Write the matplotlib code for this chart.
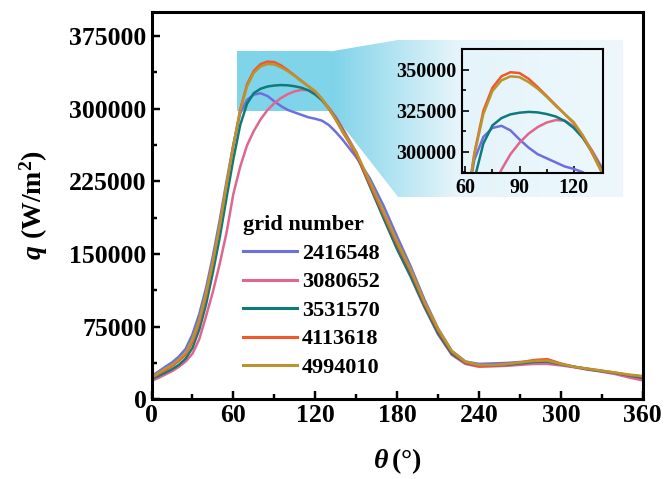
import numpy as np
import matplotlib
matplotlib.use("Agg")
import matplotlib.pyplot as plt
from matplotlib.patches import Polygon, Rectangle
from matplotlib.ticker import MultipleLocator
from matplotlib.colors import LinearSegmentedColormap

# fonts: Liberation Serif stands in for Times New Roman
plt.rcParams['font.family'] = ['Liberation Serif', 'DejaVu Serif']
plt.rcParams['font.weight'] = 'bold'
plt.rcParams['mathtext.fontset'] = 'custom'
plt.rcParams['mathtext.rm'] = 'Liberation Serif'
plt.rcParams['mathtext.it'] = 'Liberation Serif:italic'
plt.rcParams['mathtext.bf'] = 'Liberation Serif:bold'
plt.rcParams['mathtext.bfit'] = 'Liberation Serif:italic:bold'

# ---- data ----
theta = [0, 5, 10, 15, 20, 25, 30, 35, 40, 45, 50, 55, 60, 65, 70, 75, 80, 85, 90,
         95, 100, 105, 110, 115, 120, 125, 130, 135, 140, 150, 160, 170, 180, 190,
         200, 210, 220, 230, 240, 250, 260, 270, 280, 290, 300, 310, 320, 330, 340,
         350, 360]

q_2416548 = [24000, 28500, 33500, 38000, 44000, 52000, 67000, 88000, 115000, 148000,
             185000, 225000, 263000, 295000, 309000, 314500, 315800, 313000, 307500,
             302500, 298500, 296000, 293500, 291000, 289500, 287500, 283000, 276000,
             268000, 250000, 228000, 200000, 168000, 137000, 103000, 73000, 50000,
             39000, 36500, 37000, 37500, 38500, 39000, 38500, 36000, 33500, 31000,
             29000, 27000, 24500, 22000]

q_3080652 = [19000, 22000, 25500, 29000, 33500, 39000, 47000, 62000, 86000, 111000,
             140000, 172000, 212000, 240000, 262000, 277000, 289000, 298500, 305500,
             311000, 315000, 317800, 319300, 319000, 315500, 309500, 301000, 291500,
             280000, 255000, 222000, 188000, 155000, 126000, 95000, 67000, 46000,
             36500, 33500, 34000, 34500, 35500, 36500, 36500, 35000, 33000, 30500,
             28500, 26000, 22500, 19500]

q_3531570 = [21000, 24000, 27500, 31000, 35500, 42000, 53000, 72000, 98000, 131000,
             167000, 208000, 248000, 283000, 305000, 316000, 320500, 322800, 323800,
             324300, 324000, 323000, 321500, 318800, 314500, 308500, 300000, 290000,
             278000, 253000, 220000, 187000, 155000, 127000, 96000, 68000, 47000,
             37500, 34500, 35000, 35500, 37000, 38500, 39000, 36000, 33500, 31000,
             29000, 27000, 24500, 22000]

q_4113618 = [22000, 26000, 30000, 34000, 39500, 46000, 59000, 79000, 107000, 141000,
             179000, 221000, 262000, 299000, 325000, 339000, 346000, 348500, 348000,
             344500, 339500, 334000, 328500, 323000, 317500, 309500, 299500, 288500,
             276000, 253000, 222000, 191000, 160000, 132000, 99000, 71000, 49000,
             38000, 34500, 35000, 36000, 38000, 40500, 41500, 37000, 33500, 31500,
             29500, 27500, 25000, 23500]

q_4994010 = [23000, 27000, 31500, 35500, 41000, 48000, 62000, 82000, 110000, 143000,
             180000, 222000, 262000, 298000, 323000, 337000, 343500, 346000, 345500,
             342500, 338500, 333500, 328000, 323000, 318000, 310000, 300000, 289000,
             277000, 255000, 225000, 194000, 163000, 134000, 101000, 73000, 50000,
             39000, 35500, 35500, 36500, 38000, 39500, 40000, 36500, 33500, 31500,
             29500, 27500, 25500, 24000]

grid_labels = ['2416548', '3080652', '3531570', '4113618', '4994010']
series = [q_2416548, q_3080652, q_3531570, q_4113618, q_4994010]
colors = ['#6b70de', '#e0668f', '#0e7b7b', '#f0582a', '#b89530']


def style_axis(ax, size, spine_w, major_len, minor_len):
    for s in ax.spines.values():
        s.set_linewidth(spine_w)
    ax.tick_params(which='both', direction='in', width=spine_w * 0.8, labelsize=size)
    ax.tick_params(which='major', length=major_len)
    ax.tick_params(which='minor', length=minor_len)
    for lab in ax.get_xticklabels() + ax.get_yticklabels():
        lab.set_fontweight('bold')


fig = plt.figure(figsize=(6.66, 4.79), dpi=100)
ax = fig.add_axes([0.2275, 0.1664, 0.7375, 0.8092])

# zoom highlight: solid rectangle, gradient funnel and pale box behind the inset
rect_x, rect_y = (62.4, 131.3), (298000, 359000)
box_x, box_y = (180.7, 345.6), (208800, 370800)
ax.add_patch(Rectangle((rect_x[0], rect_y[0]), rect_x[1] - rect_x[0], rect_y[1] - rect_y[0],
                       facecolor='#80d4ea', edgecolor='none', zorder=0))
funnel = Polygon([(rect_x[1], rect_y[1]), (box_x[0], box_y[1]), (box_x[1], box_y[1]),
                  (box_x[1], box_y[0]), (box_x[0], box_y[0]), (rect_x[1], rect_y[0])],
                 closed=True, facecolor='none', edgecolor='none')
ax.add_patch(funnel)
cmap = LinearSegmentedColormap.from_list('fade', [(0, '#7fd3e9'), (0.42, '#e4f4fa'), (1, '#eef8fc')])
grad = np.linspace(0, 1, 256).reshape(1, -1)
im = ax.imshow(grad, cmap=cmap, aspect='auto', extent=[rect_x[1], box_x[1], box_y[0], box_y[1]],
               zorder=0, interpolation='bilinear')
im.set_clip_path(funnel)

for q, c, lab in zip(series, colors, grid_labels):
    ax.plot(theta, q, color=c, lw=1.8, label=lab, zorder=2)

ax.set_xlim(0, 360)
ax.set_ylim(0, 400000)
ax.xaxis.set_major_locator(MultipleLocator(60))
ax.xaxis.set_minor_locator(MultipleLocator(30))
ax.yaxis.set_major_locator(MultipleLocator(75000))
ax.yaxis.set_minor_locator(MultipleLocator(37500))
style_axis(ax, 18.5, 2.2, 6, 3.5)
ax.set_xlabel(r'$\mathit{\theta}\,\mathrm{(°)}$', fontsize=20, labelpad=14)
ax.set_ylabel(r'$\mathbfit{q}\ \mathbf{(W/m^2)}$', fontsize=20, labelpad=14)

leg = ax.legend(loc='upper left', bbox_to_anchor=(0.155, 0.515), frameon=False,
                title='grid number', alignment='left',
                prop={'family': 'Liberation Serif', 'weight': 'bold', 'size': 16},
                title_fontproperties={'family': 'Liberation Serif', 'weight': 'bold', 'size': 16},
                handlelength=2.4, handletextpad=0.25, labelspacing=0.36, borderpad=0.2)
for h in leg.get_lines():
    h.set_linewidth(2.2)

# inset zoom
axin = fig.add_axes([0.6932, 0.6388, 0.2117, 0.2583])
axin.set_facecolor('none')
for q, c in zip(series, colors):
    axin.plot(theta, q, color=c, lw=1.8)
axin.set_xlim(58, 136)
axin.set_ylim(287000, 362500)
axin.xaxis.set_major_locator(MultipleLocator(30))
axin.xaxis.set_minor_locator(MultipleLocator(15))
axin.yaxis.set_major_locator(MultipleLocator(25000))
axin.yaxis.set_minor_locator(MultipleLocator(12500))
style_axis(axin, 14.5, 1.5, 5, 3)

fig.savefig('out.png', dpi=100)
